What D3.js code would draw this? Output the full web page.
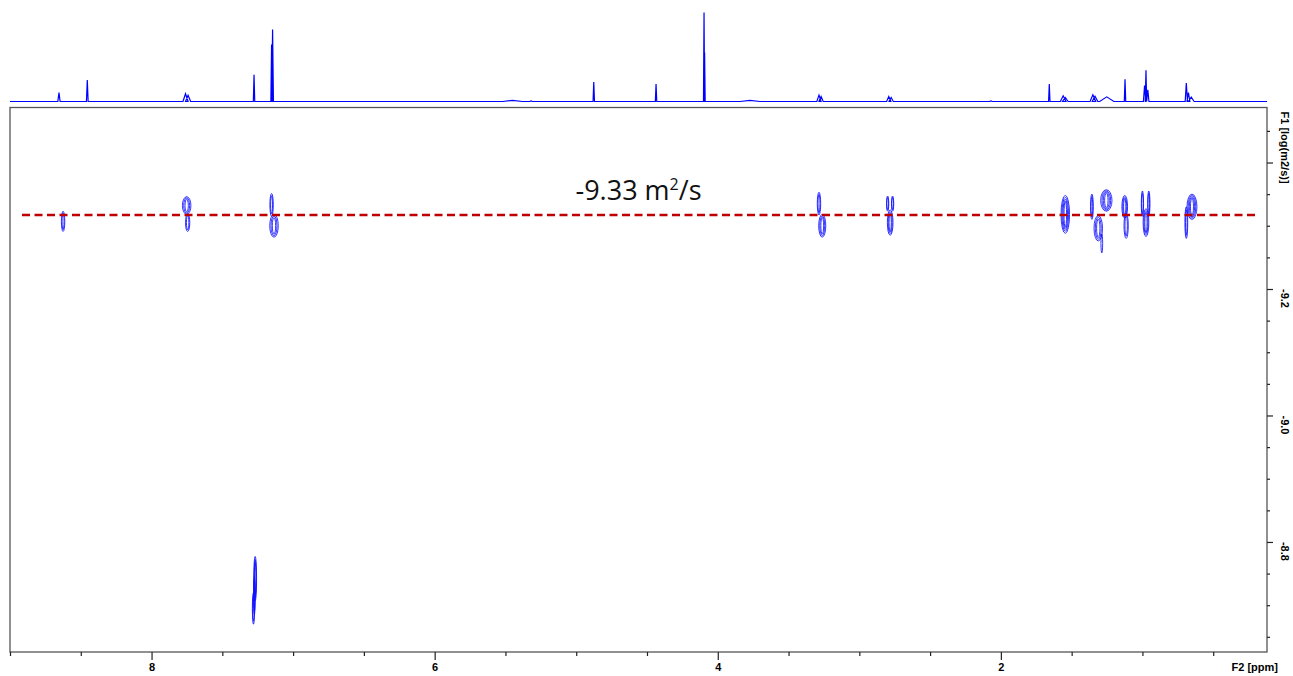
<!DOCTYPE html>
<html>
<head>
<meta charset="utf-8">
<script src="https://cdn.jsdelivr.net/npm/d3@7"></script>
<style>
  body { margin: 0; background: #fff; }
  svg { display: block; }
  .axis text { font-family: "Liberation Sans", Arial, sans-serif; font-weight: bold; font-size: 11px; fill: #000; }
</style>
</head>
<body>
<div id="chart"></div>
<script>
// 1D projection (F2) - peak position (ppm), relative height, half width (ppm)
const specPpm    = [8.654, 8.454, 7.760, 7.742, 7.276, 7.152, 7.145, 5.45, 5.319, 4.876, 4.436, 4.097, 4.093, 3.772, 3.285, 3.270, 2.792, 2.775, 2.070, 1.658, 1.560, 1.545, 1.350, 1.335, 1.252, 1.123, 0.985, 0.975, 0.962, 0.690, 0.675, 0.655];
const specHeight = [10, 24, 8.7, 7, 30, 64, 81, 1.3, 0.6, 22, 19.5, 100, 55, 1.3, 7.2, 5.5, 5.6, 4.5, 0.6, 19.5, 6.4, 4.5, 7.5, 6, 5.2, 25, 18, 35, 13, 20.7, 10, 5];
const specWidth  = [0.008, 0.006, 0.018, 0.018, 0.005, 0.005, 0.006, 0.07, 0.01, 0.005, 0.005, 0.004, 0.004, 0.07, 0.015, 0.015, 0.015, 0.015, 0.01, 0.005, 0.02, 0.02, 0.02, 0.02, 0.05, 0.005, 0.008, 0.005, 0.008, 0.008, 0.01, 0.02];

// 2D DOSY cross peaks - centre (ppm, log D), half sizes, contour levels
const peakPpm      = [8.625, 7.752, 7.745, 7.152, 7.135, 7.268, 7.280, 7.274, 3.285, 3.262, 2.800, 2.765, 2.782, 1.545, 1.357, 1.255, 1.312, 1.287, 1.125, 1.115, 1.000, 0.955, 0.975, 0.650, 0.690];
const peakLogD     = [-9.307, -9.332, -9.305, -9.333, -9.300, -8.742, -8.695, -8.715, -9.335, -9.300, -9.335, -9.335, -9.305, -9.318, -9.330, -9.340, -9.296, -9.272, -9.330, -9.300, -9.335, -9.335, -9.305, -9.330, -9.305];
const peakHalfPpm  = [0.012, 0.030, 0.015, 0.012, 0.030, 0.010, 0.008, 0.006, 0.012, 0.025, 0.008, 0.008, 0.020, 0.030, 0.010, 0.040, 0.030, 0.006, 0.020, 0.015, 0.008, 0.008, 0.020, 0.035, 0.010];
const peakHalfLogD = [0.016, 0.014, 0.014, 0.018, 0.018, 0.035, 0.025, 0.030, 0.018, 0.018, 0.012, 0.012, 0.020, 0.030, 0.020, 0.017, 0.020, 0.015, 0.018, 0.020, 0.020, 0.020, 0.022, 0.020, 0.025];
const peakLevels   = [2, 3, 2, 2, 3, 3, 2, 2, 2, 3, 2, 2, 3, 4, 2, 4, 3, 1, 3, 2, 2, 2, 3, 4, 2];

// axes
const xTicks  = [9, 8.5, 8, 7.5, 7, 6.5, 6, 5.5, 5, 4.5, 4, 3.5, 3, 2.5, 2, 1.5, 1, 0.5];
const xLabels = [8, 6, 4, 2];
const yTicks  = [-9.45, -9.4, -9.35, -9.3, -9.25, -9.2, -9.15, -9.1, -9.05, -9.0, -8.95, -8.9, -8.85, -8.8, -8.75, -8.7, -8.65];
const yMajor  = [-9.4, -9.2, -9.0, -8.8];
const yLabels = ["-9.2", "-9.0", "-8.8"];

// reference diffusion line
const refLogD = -9.317;
const refText = "-9.33";

const W = 1293, H = 676;

const svg = d3.select("#chart").append("svg")
  .attr("width", W)
  .attr("height", H);

svg.append("rect").attr("width", W).attr("height", H).attr("fill", "#fff");

const x = d3.scaleLinear().domain([9.0, 0.12]).range([10, 1267]);
const y = d3.scaleLinear().domain([-9.487, -8.626]).range([107.5, 652]);
const yInt = d3.scaleLinear().domain([0, 100]).range([101.5, 12.5]);

// 1D projection on top
const pts = [[9.0, 0]];
d3.range(specPpm.length)
  .sort((a, b) => specPpm[b] - specPpm[a])
  .forEach(i => {
    pts.push([specPpm[i] + specWidth[i], 0]);
    pts.push([specPpm[i], specHeight[i]]);
    pts.push([specPpm[i] - specWidth[i], 0]);
  });
pts.push([0.12, 0]);

svg.append("path")
  .datum(pts)
  .attr("fill", "none")
  .attr("stroke", "#0000ff")
  .attr("stroke-width", 1.2)
  .attr("d", d3.line().x(d => x(d[0])).y(d => yInt(d[1])));

// plot frame
svg.append("rect")
  .attr("x", x.range()[0])
  .attr("y", y.range()[0])
  .attr("width", x.range()[1] - x.range()[0])
  .attr("height", y.range()[1] - y.range()[0])
  .attr("fill", "none")
  .attr("stroke", "#555")
  .attr("stroke-width", 1.3);

// contour rings
const rings = [];
peakPpm.forEach((p, i) => {
  const n = peakLevels[i];
  for (let k = 0; k < n; k++) {
    const f = 1 - k / (n + 0.3);
    rings.push({ p, d: peakLogD[i], rx: peakHalfPpm[i] * f, ry: peakHalfLogD[i] * (0.55 + 0.45 * f) });
  }
});

svg.append("g")
  .selectAll("ellipse")
  .data(rings)
  .join("ellipse")
  .attr("cx", d => x(d.p))
  .attr("cy", d => y(d.d))
  .attr("rx", d => Math.max(0.8, Math.abs(x(d.p + d.rx) - x(d.p))))
  .attr("ry", d => Math.abs(y(d.d + d.ry) - y(d.d)))
  .attr("fill", "none")
  .attr("stroke", "#1010ff")
  .attr("stroke-opacity", 0.85)
  .attr("stroke-width", 1);

// x axis
const gx = svg.append("g")
  .attr("class", "axis")
  .attr("transform", `translate(0,${y.range()[1]})`)
  .call(d3.axisBottom(x)
    .tickValues(xTicks)
    .tickSize(4)
    .tickSizeOuter(0)
    .tickPadding(7)
    .tickFormat(d => xLabels.includes(d) ? String(d) : ""));
gx.select(".domain").remove();
gx.selectAll(".tick line").attr("stroke", "#222").attr("stroke-width", 1.2)
  .filter(d => xLabels.includes(d)).attr("y2", 8);

gx.append("text")
  .attr("x", 1278)
  .attr("y", 11)
  .attr("dy", "0.71em")
  .attr("text-anchor", "end")
  .text("F2 [ppm]");

// y axis (right)
const gy = svg.append("g")
  .attr("class", "axis")
  .attr("transform", `translate(${x.range()[1]},0)`)
  .call(d3.axisRight(y)
    .tickValues(yTicks)
    .tickSize(3)
    .tickSizeOuter(0)
    .tickFormat(""));
gy.select(".domain").remove();
gy.selectAll(".tick line").attr("stroke", "#222").attr("stroke-width", 1.2)
  .filter(d => yMajor.includes(d)).attr("x2", 6);

gy.selectAll("text.ylab")
  .data(yLabels)
  .join("text")
  .attr("class", "ylab")
  .attr("transform", d => `translate(14,${y(+d)}) rotate(90)`)
  .attr("text-anchor", "start")
  .text(d => d);

gy.append("text")
  .attr("transform", `translate(14,${y.range()[0] + 4}) rotate(90)`)
  .attr("text-anchor", "start")
  .text("F1 [log(m2/s)]");

// reference line and annotation
svg.append("line")
  .attr("x1", x.range()[0] + 12)
  .attr("x2", x.range()[1] - 10)
  .attr("y1", y(refLogD))
  .attr("y2", y(refLogD))
  .attr("stroke", "#c00000")
  .attr("stroke-width", 2.5)
  .attr("stroke-dasharray", "8,4.5");

const ann = svg.append("text")
  .attr("x", (x.range()[0] + x.range()[1]) / 2)
  .attr("y", y(refLogD) - 15)
  .attr("text-anchor", "middle")
  .attr("font-family", "'Open Sans', 'Noto Sans', sans-serif")
  .attr("font-size", 27)
  .attr("fill", "#111");
ann.append("tspan").text(refText + " m");
ann.append("tspan").attr("dy", -10).attr("font-size", 16).text("2");
ann.append("tspan").attr("dy", 10).text("/s");
</script>
</body>
</html>
